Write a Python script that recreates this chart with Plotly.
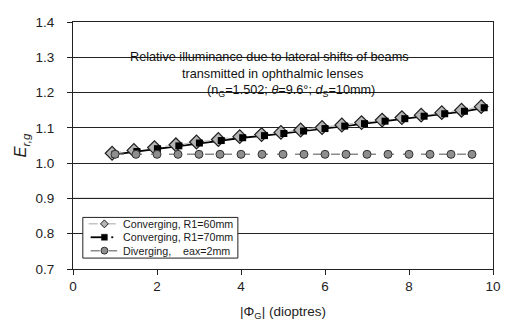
import plotly.graph_objects as go

# Lens power |Phi_G| (dioptres) and relative illuminance E_r,g
phi_r60 = [0.93, 1.45, 1.94, 2.45, 2.94, 3.46, 3.97, 4.49, 4.95, 5.42,
           5.93, 6.40, 6.87, 7.36, 7.83, 8.29, 8.78, 9.25, 9.72]
erg_r60 = [1.028, 1.036, 1.044, 1.052, 1.060, 1.067, 1.075, 1.081, 1.087, 1.094,
           1.101, 1.108, 1.115, 1.122, 1.129, 1.136, 1.143, 1.150, 1.160]

phi_r70 = [1.00, 1.52, 2.01, 2.52, 3.01, 3.53, 4.04, 4.56, 5.02, 5.49,
           6.00, 6.47, 6.94, 7.43, 7.90, 8.36, 8.85, 9.32, 9.79]
erg_r70 = [1.025, 1.033, 1.041, 1.049, 1.057, 1.064, 1.072, 1.078, 1.084, 1.091,
           1.098, 1.105, 1.112, 1.119, 1.126, 1.133, 1.140, 1.147, 1.157]

phi_div = [1.0, 1.5, 2.0, 2.5, 3.0, 3.5, 4.0, 4.5, 5.0,
           5.5, 6.0, 6.5, 7.0, 7.5, 8.0, 8.5, 9.0, 9.5]
erg_div = [1.025, 1.025, 1.025, 1.025, 1.025, 1.025, 1.025, 1.025, 1.025,
           1.025, 1.025, 1.025, 1.025, 1.025, 1.025, 1.025, 1.025, 1.025]

x_ticks = [0, 2, 4, 6, 8, 10]
y_ticks = [0.7, 0.8, 0.9, 1.0, 1.1, 1.2, 1.3, 1.4]

legend_labels = ["Converging, R1=60mm", "Converging, R1=70mm", "Diverging,    eax=2mm"]

FONT = "Liberation Sans, Arial, sans-serif"
W, H = 509, 325
ML, MR, MT, MB = 73, 8, 22, 54
PW, PH = W - ML - MR, H - MT - MB


def px(x):
    """pixel column -> paper x"""
    return (x - ML) / PW


def py(y):
    """pixel row -> paper y"""
    return (H - MB - y) / PH


fig = go.Figure()

# R1=70 line sits underneath the diamonds
fig.add_trace(go.Scatter(
    x=phi_r70, y=erg_r70, mode="lines", showlegend=False,
    line=dict(color="black", width=1.8),
))
fig.add_trace(go.Scatter(
    x=phi_r60, y=erg_r60, mode="lines+markers", showlegend=False,
    line=dict(color="#c4c4c4", width=1.5, dash="dash"),
    marker=dict(symbol="diamond", size=10.5, color="#b4b4b4",
                line=dict(color="#1e1e1e", width=1.2)),
))
# square markers drawn over the diamonds
fig.add_trace(go.Scatter(
    x=phi_r70, y=erg_r70, mode="markers", showlegend=False,
    marker=dict(symbol="square", size=7, color="black"),
))
fig.add_trace(go.Scatter(
    x=phi_div, y=erg_div, mode="lines+markers", showlegend=False,
    line=dict(color="#8a8a8a", width=1.5, dash="dash"),
    marker=dict(symbol="circle", size=8, color="#8e8e8e",
                line=dict(color="#333333", width=1)),
))

shapes = []
# lighter gridline at 0.9
shapes.append(dict(type="line", xref="paper", x0=0, x1=1, yref="y", y0=0.9, y1=0.9,
                   line=dict(color="#8c8c8c", width=1.3), layer="below"))

# compact legend box
box_l, box_r, box_t, box_b = 83, 241, 219, 260
shapes.append(dict(type="rect", xref="paper", yref="paper",
                   x0=px(box_l), x1=px(box_r), y0=py(box_b), y1=py(box_t),
                   fillcolor="white", line=dict(color="#222", width=1), layer="above"))
rows = [225.5, 239, 252.5]
sym_x = 105
# row 1: light dashed line + small diamond
shapes.append(dict(type="line", xref="paper", yref="paper",
                   x0=px(89), x1=px(118), y0=py(rows[0]), y1=py(rows[0]),
                   line=dict(color="#c4c4c4", width=1.5, dash="dash"), layer="above"))
d = 4
shapes.append(dict(type="path", xref="paper", yref="paper",
                   path=(f"M {px(sym_x - d)},{py(rows[0])} L {px(sym_x)},{py(rows[0] - d)} "
                         f"L {px(sym_x + d)},{py(rows[0])} L {px(sym_x)},{py(rows[0] + d)} Z"),
                   fillcolor="#b4b4b4", line=dict(color="#1e1e1e", width=1), layer="above"))
# row 2: solid black line + square
shapes.append(dict(type="line", xref="paper", yref="paper",
                   x0=px(91), x1=px(104), y0=py(rows[1]), y1=py(rows[1]),
                   line=dict(color="black", width=1.8), layer="above"))
shapes.append(dict(type="line", xref="paper", yref="paper",
                   x0=px(112), x1=px(114), y0=py(rows[1]), y1=py(rows[1]),
                   line=dict(color="black", width=1.8), layer="above"))
s = 3
shapes.append(dict(type="rect", xref="paper", yref="paper",
                   x0=px(sym_x - s), x1=px(sym_x + s), y0=py(rows[1] + s), y1=py(rows[1] - s),
                   fillcolor="black", line=dict(color="black", width=0.5), layer="above"))
# row 3: grey dashed line + circle
shapes.append(dict(type="line", xref="paper", yref="paper",
                   x0=px(91), x1=px(118), y0=py(rows[2]), y1=py(rows[2]),
                   line=dict(color="#8a8a8a", width=1.5, dash="dash"), layer="above"))
c = 3.5
shapes.append(dict(type="circle", xref="paper", yref="paper",
                   x0=px(sym_x - c), x1=px(sym_x + c), y0=py(rows[2] + c), y1=py(rows[2] - c),
                   fillcolor="#8e8e8e", line=dict(color="#333333", width=1), layer="above"))

annotations = []
for label, r in zip(legend_labels, rows):
    annotations.append(dict(text=label, xref="paper", yref="paper", x=px(122), y=py(r),
                            xanchor="left", yanchor="middle", showarrow=False,
                            font=dict(family=FONT, size=10.7, color="#1a1a1a")))

title_font = dict(family=FONT, size=12.7, color="#111")
annotations.append(dict(text="Relative illuminance due to lateral shifts of beams",
                        xref="paper", yref="paper", x=px(273), y=py(48),
                        showarrow=False, font=title_font))
annotations.append(dict(text="transmitted in ophthalmic lenses",
                        xref="paper", yref="paper", x=px(276.5), y=py(65),
                        showarrow=False, font=title_font))
annotations.append(dict(text="(n<sub>G</sub>=1.502; <i>θ</i>=9.6°; <i>d</i><sub>S</sub>=10mm)",
                        xref="paper", yref="paper", x=px(295.5), y=py(81),
                        showarrow=False, font=title_font))

fig.update_layout(
    width=W, height=H,
    margin=dict(l=ML, r=MR, t=MT, b=MB),
    paper_bgcolor="white", plot_bgcolor="white",
    font=dict(family=FONT, size=13.5, color="#222"),
    showlegend=False,
    shapes=shapes,
    annotations=annotations,
    xaxis=dict(
        range=[0, 10], tickvals=x_ticks, showgrid=False, zeroline=False,
        showline=True, linecolor="#222", linewidth=1.2, mirror=True,
        ticks="outside", ticklen=5, tickcolor="#222",
        title=dict(text="|Φ<sub>G</sub>| (dioptres)", standoff=13,
                   font=dict(family=FONT, size=13.5)),
    ),
    yaxis=dict(
        range=[0.7, 1.4], tickvals=y_ticks, tickformat=".1f",
        showgrid=True, gridcolor="#222", gridwidth=1, zeroline=False,
        showline=True, linecolor="#222", linewidth=1.2, mirror=True,
        ticks="outside", ticklen=5, tickcolor="#222", ticklabelstandoff=10,
        title=dict(text="<i>E<sub>r,g</sub></i>", standoff=4,
                   font=dict(family=FONT, size=16.5)),
    ),
)

fig.write_html("out.html")
